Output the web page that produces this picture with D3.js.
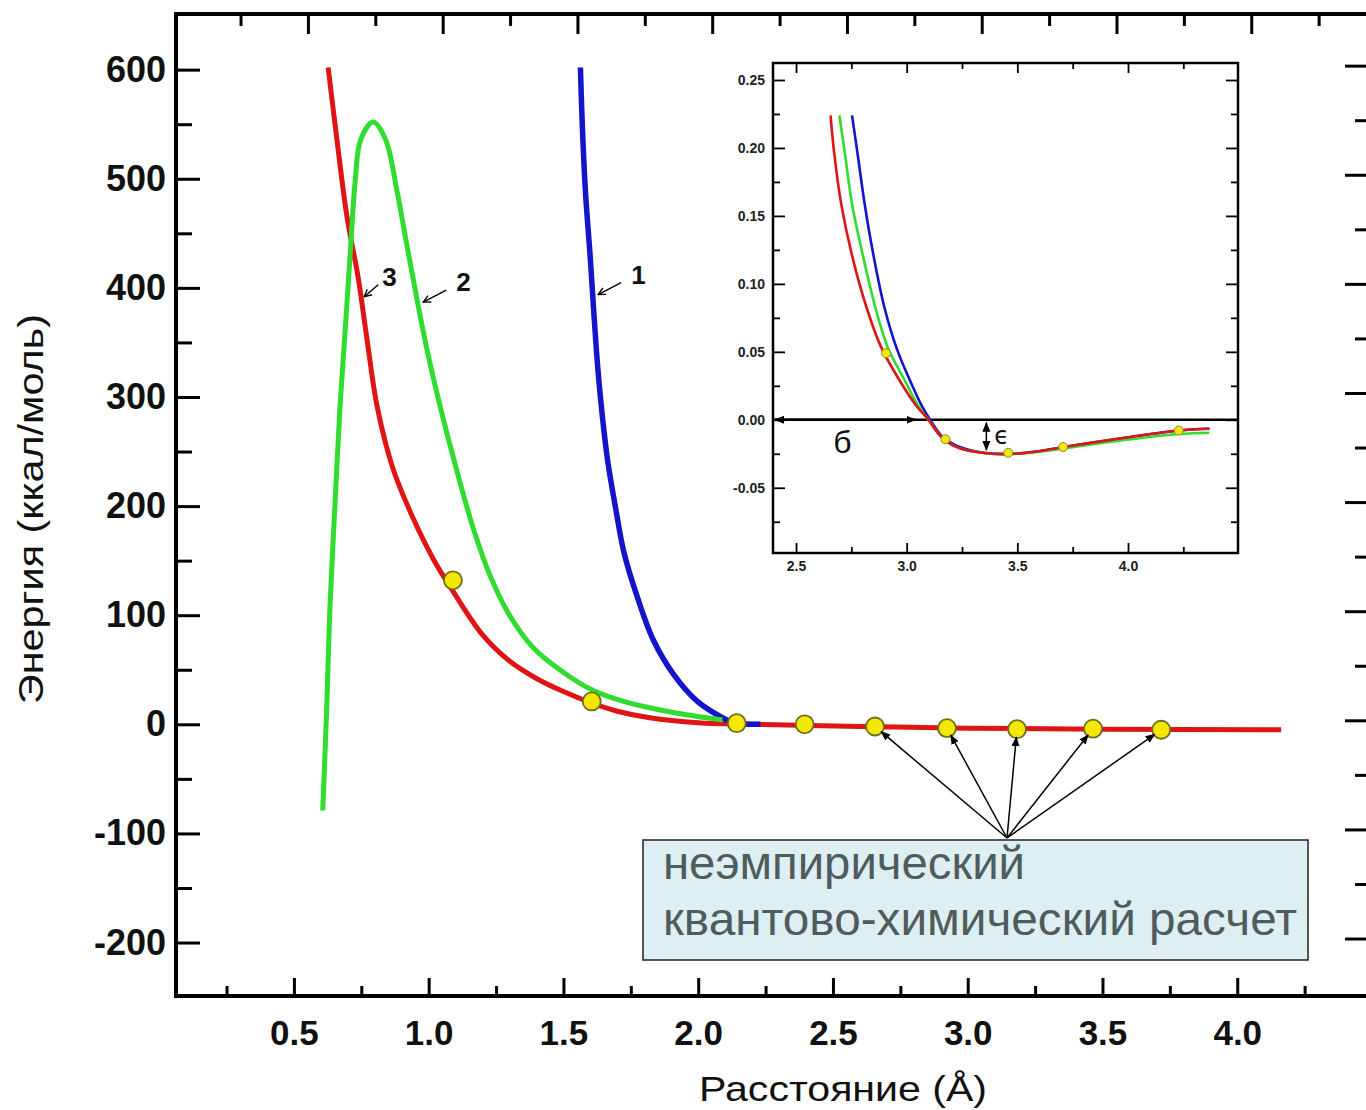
<!DOCTYPE html>
<html lang="ru">
<head>
<meta charset="UTF-8">
<title>Энергия взаимодействия</title>
<script src="https://cdn.jsdelivr.net/npm/d3@7/dist/d3.min.js"></script>
<style>
  body { margin: 0; background: #fff; }
  svg { display: block; font-family: "Liberation Sans", Arial, sans-serif; }
</style>
</head>
<body>
<svg width="1366" height="1110"></svg>
<script>
// ---- main chart: distance (A) -> energy (kcal/mol) ----
var curve1 = [[1.563,602],[1.570,549],[1.582,487],[1.600,426],[1.612,380],[1.628,325],[1.645,281],[1.665,240],
  [1.693,199],[1.725,157],[1.775,116],[1.834,77],[1.908,46],[1.997,21],[2.083,7],[2.131,1.5],[2.231,0]];
var curve2 = [[0.607,-79],[0.622,17],[0.634,109],[0.652,200],[0.671,291],[0.690,360],[0.708,428],[0.727,497],
  [0.748,536],[0.794,552],[0.840,536],[0.883,488],[0.920,438],[0.957,389],[0.995,342],[1.043,291],[1.106,231],
  [1.165,180],[1.230,135],[1.300,100],[1.389,70],[1.515,45],[1.611,31],[1.723,21],[1.824,15],[1.95,9],[2.09,4]];
var curve3 = [[0.627,602],[0.660,535],[0.697,465],[0.738,410],[0.770,355],[0.809,291],[0.868,234],[0.942,189],
  [1.016,152],[1.090,122],[1.200,82],[1.300,58],[1.400,42],[1.500,30],[1.600,20],[1.700,12],[1.820,6],
  [2.0,1.5],[2.2,0],[2.6,-2],[3.0,-3.5],[3.5,-4.5],[4.163,-5]];
var abInitio = [[1.09,132],[1.605,21],[2.143,1],[2.395,0],[2.656,-2],[2.923,-3.5],[3.183,-4.5],[3.465,-4],[3.718,-5]];
var xTickValues = [0.5,1.0,1.5,2.0,2.5,3.0,3.5,4.0];
var yTickValues = [-200,-100,0,100,200,300,400,500,600];
var curveNames = ["1","2","3"];
var curveNamePoints = [[1.625,393],[0.976,386],[0.757,391]];
var pointedDots = [4,5,6,7,8];
var boxLines = ["неэмпирический", "квантово-химический расчет"];

// ---- inset (zoom on the minimum) ----
var inset1 = [[2.753,0.224],[2.777,0.197],[2.810,0.159],[2.850,0.121],[2.899,0.083],[2.956,0.052],[3.012,0.030],
  [3.069,0.010],[3.102,0.001],[3.159,-0.012],[3.240,-0.020],[3.353,-0.0244],[3.467,-0.0252],[3.597,-0.0231],
  [3.710,-0.020],[3.840,-0.0168],[4.002,-0.0129],[4.229,-0.0079],[4.368,-0.0066]];
var inset2 = [[2.696,0.224],[2.720,0.197],[2.753,0.159],[2.802,0.121],[2.858,0.083],[2.915,0.053],[2.988,0.030],
  [3.053,0.010],[3.094,0.001],[3.159,-0.013],[3.240,-0.021],[3.353,-0.0244],[3.467,-0.0252],[3.597,-0.0235],
  [3.710,-0.021],[3.840,-0.018],[4.002,-0.0145],[4.229,-0.0105],[4.368,-0.0095]];
var inset3 = [[2.656,0.224],[2.672,0.197],[2.704,0.159],[2.753,0.121],[2.818,0.083],[2.883,0.054],[2.964,0.030],
  [3.045,0.010],[3.094,0.001],[3.159,-0.013],[3.240,-0.021],[3.353,-0.0244],[3.467,-0.0252],[3.597,-0.0231],
  [3.710,-0.020],[3.840,-0.0168],[4.002,-0.0129],[4.229,-0.0079],[4.368,-0.0066]];
var insetDots = [[2.907,0.049],[3.175,-0.0143],[3.459,-0.0243],[3.707,-0.020],[4.229,-0.0079]];
var insetXTicks = [2.5,3.0,3.5,4.0];
var insetYTicks = [-0.05,0,0.05,0.10,0.15,0.20,0.25];
var sigmaEnd = 3.04;     // end of the б arrow
var epsilonAt = 3.36;    // x of the ε arrow

var RED = "#e01414", GREEN = "#2fdc2f", BLUE = "#1414c8";

var svg = d3.select("svg");

var defs = svg.append("defs");
defs.append("marker").attr("id","open").attr("viewBox","0 0 10 10").attr("refX",9).attr("refY",5)
  .attr("markerWidth",9).attr("markerHeight",9).attr("markerUnits","userSpaceOnUse").attr("orient","auto")
  .append("path").attr("d","M1,1 L9,5 L1,9").attr("fill","none").attr("stroke","#000").attr("stroke-width",1.5);
defs.append("marker").attr("id","solid").attr("viewBox","0 0 10 10").attr("refX",9).attr("refY",5)
  .attr("markerWidth",10).attr("markerHeight",10).attr("markerUnits","userSpaceOnUse").attr("orient","auto-start-reverse")
  .append("path").attr("d","M0,1 L10,5 L0,9 Z").attr("fill","#000");

// main scales
var x = d3.scaleLinear().domain([0.0625, 4.5]).range([176, 1372]);
var y = d3.scaleLinear().domain([-249, 651]).range([996, 14]);

// hyphen instead of unicode minus, as in the original
function hyph(f) { return function(d){ return f(d).replace("\u2212", "-"); }; }

function ticks(g, axis, size, values, fmt, pad) {
  axis.tickValues(values).tickSizeInner(size).tickSizeOuter(0).tickPadding(pad || 3).tickFormat(fmt || "");
  g.call(axis);
  g.select(".domain").remove();
  g.attr("font-family", null).attr("font-size", null);
  g.selectAll(".tick line").attr("stroke", "#000");
  return g;
}

var xMinor = d3.range(0.25, 4.4, 0.5);
var yMinor = d3.range(-150, 600, 100);

// bottom
var gb = ticks(svg.append("g").attr("transform","translate(0,996)"), d3.axisBottom(x), -18, xTickValues, d3.format(".1f"), 24);
gb.selectAll(".tick line").attr("stroke-width", 3);
gb.selectAll("text").attr("font-size", 35).attr("font-weight", "bold").attr("fill", "#111");
ticks(svg.append("g").attr("transform","translate(0,996)"), d3.axisBottom(x), -10, xMinor)
  .selectAll(".tick line").attr("stroke-width", 3);
// top (slightly shifted in the scan)
ticks(svg.append("g").attr("transform","translate(14,14)"), d3.axisTop(x), -20, xTickValues)
  .selectAll(".tick line").attr("stroke-width", 3);
ticks(svg.append("g").attr("transform","translate(14,14)"), d3.axisTop(x), -12, xMinor)
  .selectAll(".tick line").attr("stroke-width", 3);
// left
var gl = ticks(svg.append("g").attr("transform","translate(176,0)"), d3.axisLeft(y), -24, yTickValues, hyph(d3.format("d")), 10);
gl.selectAll(".tick line").attr("stroke-width", 3);
gl.selectAll("text").attr("font-size", 36).attr("font-weight", "bold").attr("fill", "#111");
ticks(svg.append("g").attr("transform","translate(176,0)"), d3.axisLeft(y), -16, yMinor)
  .selectAll(".tick line").attr("stroke-width", 3);
// right
ticks(svg.append("g").attr("transform","translate(1372,-4)"), d3.axisRight(y), -27, yTickValues)
  .selectAll(".tick line").attr("stroke-width", 3);
ticks(svg.append("g").attr("transform","translate(1372,-4)"), d3.axisRight(y), -17, yMinor)
  .selectAll(".tick line").attr("stroke-width", 3);

// frame
svg.append("rect").attr("x", 176).attr("y", 14).attr("width", 1372 - 176).attr("height", 996 - 14)
  .attr("fill", "none").attr("stroke", "#000").attr("stroke-width", 4);

// titles
svg.append("text").attr("transform", "translate(43,509) rotate(-90)").attr("text-anchor", "middle")
  .attr("font-size", 35).attr("fill", "#111").attr("textLength", 390).attr("lengthAdjust", "spacingAndGlyphs")
  .text("Энергия (ккал/моль)");
svg.append("text").attr("x", 843).attr("y", 1101).attr("text-anchor", "middle")
  .attr("font-size", 35).attr("fill", "#111").attr("textLength", 288).attr("lengthAdjust", "spacingAndGlyphs")
  .text("Расстояние (Å)");

// curves
var line = d3.line().x(function(d){ return x(d[0]); }).y(function(d){ return y(d[1]); }).curve(d3.curveCatmullRom.alpha(0.5));
svg.append("path").datum(curve3).attr("d", line).attr("fill","none").attr("stroke",RED).attr("stroke-width",5).attr("stroke-linejoin","round");
svg.append("path").datum(curve1).attr("d", line).attr("fill","none").attr("stroke",BLUE).attr("stroke-width",5.5).attr("stroke-linejoin","round");
svg.append("path").datum(curve2).attr("d", line).attr("fill","none").attr("stroke",GREEN).attr("stroke-width",5).attr("stroke-linejoin","round");

svg.selectAll("circle.qc").data(abInitio).enter().append("circle").attr("class","qc")
  .attr("cx", function(d){ return x(d[0]); }).attr("cy", function(d){ return y(d[1]); }).attr("r", 9)
  .attr("fill", "#f4e800").attr("stroke", "#6f6c26").attr("stroke-width", 1.8);

// curve numbers with small arrows
curveNames.forEach(function(name, i) {
  var px = x(curveNamePoints[i][0]), py = y(curveNamePoints[i][1]);
  var dx = name === "3" ? 15 : 24;
  svg.append("line").attr("x1", px + dx).attr("y1", py - 13).attr("x2", px + 1).attr("y2", py - 1)
    .attr("stroke", "#000").attr("stroke-width", 1.4).attr("marker-end", "url(#open)");
  svg.append("text").attr("x", px + dx + (name === "3" ? 4 : 10)).attr("y", py - 12)
    .attr("font-size", 26).attr("font-weight", "bold").attr("fill", "#111").text(name);
});

// ---- inset ----
var xi = d3.scaleLinear().domain([2.396, 4.497]).range([773, 1238]);
var yi = d3.scaleLinear().domain([-0.098, 0.2625]).range([553, 63]);
var inset = svg.append("g");
inset.append("rect").attr("x", 773).attr("y", 63).attr("width", 1238 - 773).attr("height", 553 - 63).attr("fill", "#fff");

var xiMinor = d3.range(2.75, 4.4, 0.5);
var yiMinor = d3.range(-0.075, 0.26, 0.05);
var fmtI = function(d){ return d3.format(".2f")(d).replace("\u2212", "-").replace("-0.00", "0.00"); };

var ib = ticks(inset.append("g").attr("transform","translate(0,553)"), d3.axisBottom(xi), -10, insetXTicks, d3.format(".1f"), 8);
ib.selectAll("text").attr("font-size", 14).attr("font-weight", "bold").attr("fill", "#222");
ticks(inset.append("g").attr("transform","translate(0,553)"), d3.axisBottom(xi), -6, xiMinor);
ticks(inset.append("g").attr("transform","translate(0,63)"), d3.axisTop(xi), -10, insetXTicks);
ticks(inset.append("g").attr("transform","translate(0,63)"), d3.axisTop(xi), -6, xiMinor);
var il = ticks(inset.append("g").attr("transform","translate(773,0)"), d3.axisLeft(yi), -12, insetYTicks, fmtI, 8);
il.selectAll("text").attr("font-size", 14).attr("font-weight", "bold").attr("fill", "#222");
ticks(inset.append("g").attr("transform","translate(773,0)"), d3.axisLeft(yi), -7, yiMinor);
ticks(inset.append("g").attr("transform","translate(1238,0)"), d3.axisRight(yi), -12, insetYTicks);
ticks(inset.append("g").attr("transform","translate(1238,0)"), d3.axisRight(yi), -7, yiMinor);
inset.selectAll(".tick line").attr("stroke-width", 1.8);

// zero line
inset.append("line").attr("x1", 773).attr("x2", 1238).attr("y1", yi(0)).attr("y2", yi(0))
  .attr("stroke", "#000").attr("stroke-width", 2.5);

var lineI = d3.line().x(function(d){ return xi(d[0]); }).y(function(d){ return yi(d[1]); }).curve(d3.curveCatmullRom.alpha(0.5));
[[inset1, BLUE], [inset2, GREEN], [inset3, RED]].forEach(function(s) {
  inset.append("path").datum(s[0]).attr("d", lineI).attr("fill","none").attr("stroke",s[1]).attr("stroke-width",2.6);
});
inset.selectAll("circle").data(insetDots).enter().append("circle")
  .attr("cx", function(d){ return xi(d[0]); }).attr("cy", function(d){ return yi(d[1]); }).attr("r", 4.5)
  .attr("fill", "#f4e800").attr("stroke", "#8a8640").attr("stroke-width", 1);

// б arrow
inset.append("line").attr("x1", xi(2.396) + 2).attr("x2", xi(sigmaEnd)).attr("y1", yi(0)).attr("y2", yi(0))
  .attr("stroke", "#000").attr("stroke-width", 2.5)
  .attr("marker-start", "url(#solid)").attr("marker-end", "url(#solid)");
inset.append("text").attr("x", xi(2.71)).attr("y", yi(0) + 33).attr("text-anchor", "middle")
  .attr("font-size", 32).attr("fill", "#111").text("б");

// ε arrow (depth of the red minimum)
var eDepth = d3.min(inset3, function(d){ return d[1]; });
inset.append("line").attr("x1", xi(epsilonAt)).attr("x2", xi(epsilonAt)).attr("y1", yi(0) + 3).attr("y2", yi(eDepth) - 4)
  .attr("stroke", "#000").attr("stroke-width", 1.5)
  .attr("marker-start", "url(#solid)").attr("marker-end", "url(#solid)");
inset.append("text").attr("x", xi(epsilonAt) + 8).attr("y", yi(0) + 24)
  .attr("font-family", "DejaVu Sans").attr("font-size", 24).attr("fill", "#111").text("ϵ");

inset.append("rect").attr("x", 773).attr("y", 63).attr("width", 1238 - 773).attr("height", 553 - 63)
  .attr("fill", "none").attr("stroke", "#000").attr("stroke-width", 2.5);

// ---- annotation box ----
var box = {x: 643, y: 840, w: 665, h: 120};
var origin = [box.x + 364, box.y - 2];
pointedDots.forEach(function(k) {
  var tx = x(abInitio[k][0]), ty = y(abInitio[k][1]);
  var len = Math.hypot(tx - origin[0], ty - origin[1]);
  var ex = tx + (origin[0] - tx) * 8 / len, ey = ty + (origin[1] - ty) * 8 / len;
  svg.append("line").attr("x1", origin[0]).attr("y1", origin[1]).attr("x2", ex).attr("y2", ey)
    .attr("stroke", "#000").attr("stroke-width", 1.5).attr("marker-end", "url(#solid)");
});
svg.append("rect").attr("x", box.x).attr("y", box.y).attr("width", box.w).attr("height", box.h)
  .attr("fill", "#ddeff2").attr("stroke", "#222").attr("stroke-width", 1.5);
svg.selectAll("text.box").data(boxLines).enter().append("text").attr("class", "box")
  .attr("x", box.x + 20).attr("y", function(d, i){ return box.y + 39 + i * 56; })
  .attr("font-size", 47).attr("fill", "#4f5b5c")
  .attr("textLength", function(d, i){ return i ? 634 : 362; }).attr("lengthAdjust", "spacingAndGlyphs")
  .text(function(d){ return d; });
</script>
</body>
</html>
